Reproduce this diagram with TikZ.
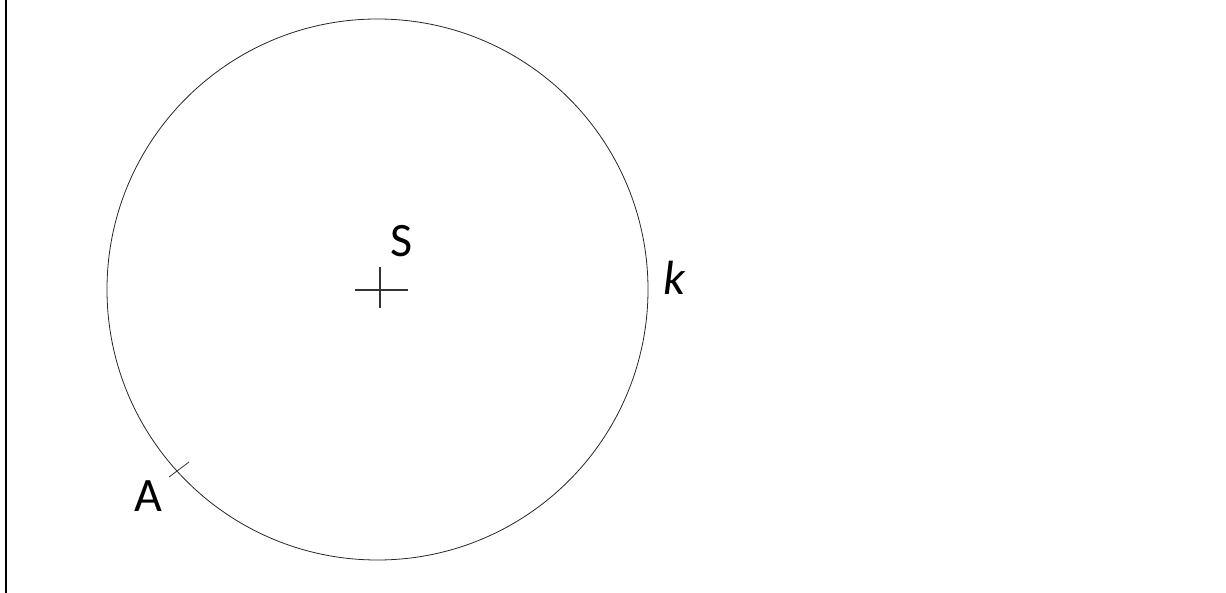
\documentclass[tikz,border=0pt]{standalone}
\usepackage{fontspec}
\setmainfont{Carlito}
\begin{document}
\begin{tikzpicture}[x=1pt,y=-1pt,
  thinline/.style={line width=0.8pt,draw=black!85},
  lbl/.style={inner sep=0pt,font=\fontsize{48}{48}\selectfont}]
\useasboundingbox (0,0) rectangle (1226,593);
\coordinate (topL) at (6,0);
\coordinate (botL) at (6,593);
\draw[line width=2pt] (topL) -- (botL);
\coordinate (S) at (377.5,289.5);
\draw[thinline] (S) circle[radius=270.5];
\coordinate (cx1) at (355,290);
\coordinate (cx2) at (408,290);
\coordinate (cy1) at (380,267);
\coordinate (cy2) at (380,308);
\draw[line width=1.1pt,draw=black!80] (cx1) -- (cx2);
\draw[line width=1.1pt,draw=black!80] (cy1) -- (cy2);
\coordinate (t1) at (169,477);
\coordinate (t2) at (189,462);
\draw[line width=0.8pt,draw=black!80] (t1) -- (t2);
\node[lbl] (labS) at (402,241) {S};
\node[lbl] (labA) at (148,496) {A};
\node[lbl] (labk) at (674,278) {\itshape k};
\end{tikzpicture}
\end{document}
